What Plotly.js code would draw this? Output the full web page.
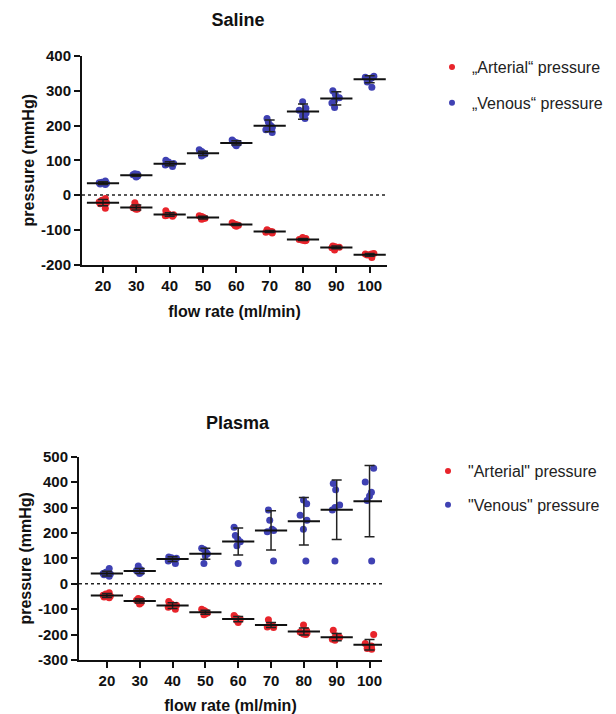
<!DOCTYPE html>
<html>
<head>
<meta charset="utf-8">
<script src="https://cdn.plot.ly/plotly-3.0.1.min.js"></script>
<style>html,body{margin:0;padding:0;background:#fff}#chart{width:616px;height:714px}</style>
</head>
<body>
<div id="chart"></div>
<script>
// ---- data ----
const flowRates = [20, 30, 40, 50, 60, 70, 80, 90, 100];
const flowRateLabels = ['20', '30', '40', '50', '60', '70', '80', '90', '100'];
const salineTicks = [-200, -100, 0, 100, 200, 300, 400];
const plasmaTicks = [-300, -200, -100, 0, 100, 200, 300, 400, 500];

const salineVenous = [
  [30, 32, 34, 35, 37, 40], [52, 55, 57, 58, 60, 61], [82, 86, 89, 91, 95, 100],
  [112, 115, 118, 121, 125, 130], [142, 146, 149, 151, 155, 158], [180, 188, 195, 200, 210, 220],
  [220, 228, 236, 244, 250, 268], [252, 265, 273, 280, 290, 300], [310, 325, 333, 337, 339, 342]
];
const salineArterial = [
  [-10, -15, -20, -22, -25, -38], [-22, -34, -37, -38, -40, -41], [-45, -55, -57, -58, -60, -61],
  [-60, -62, -65, -67, -68, -70], [-80, -82, -85, -87, -88, -90], [-100, -103, -105, -106, -107, -109],
  [-122, -125, -128, -130, -130, -132], [-147, -149, -150, -150, -152, -158], [-168, -170, -170, -172, -173, -180]
];
const salineVenousMean = [34, 57, 90, 120, 150, 199, 240, 278, 333];
const salineVenousSD = [4, 3, 6, 6, 6, 17, 22, 19, 10];
const salineArterialMean = [-22, -36, -56, -65, -85, -105, -128, -151, -172];
const salineArterialSD = [9, 7, 5, 4, 3, 3, 3, 4, 4];

const plasmaVenous = [
  [30, 35, 38, 40, 45, 60], [40, 45, 48, 52, 55, 70], [80, 90, 95, 100, 102, 105],
  [80, 110, 118, 125, 135, 140], [80, 150, 165, 175, 190, 222], [90, 205, 210, 215, 250, 290],
  [90, 215, 250, 270, 315, 330], [90, 290, 300, 310, 370, 395], [90, 328, 345, 360, 400, 455]
];
const plasmaArterial = [
  [-35, -40, -45, -48, -52, -55], [-58, -62, -65, -70, -75, -80], [-70, -80, -85, -88, -92, -100],
  [-100, -105, -110, -115, -118, -122], [-125, -132, -138, -140, -145, -152], [-142, -160, -165, -168, -170, -172],
  [-162, -185, -190, -195, -198, -200], [-183, -205, -210, -215, -218, -222], [-200, -235, -245, -250, -255, -258]
];
const plasmaVenousMean = [40, 50, 97, 118, 166, 210, 246, 291, 325];
const plasmaVenousSD = [9, 10, 9, 22, 53, 77, 93, 117, 140];
const plasmaArterialMean = [-46, -68, -86, -112, -139, -162, -188, -210, -240];
const plasmaArterialSD = [8, 8, 11, 8, 10, 10, 14, 14, 21];

// ---- styles ----
const RED = '#e8242b';
const BLUE = '#3f41b3';
const FONT = 'Arial, "Liberation Sans", sans-serif';
const W = 616, H = 714;

function flatten(groups) {
  const xs = [], ys = [];
  groups.forEach((g, i) => g.forEach(v => { xs.push(flowRates[i]); ys.push(v); }));
  return {xs, ys};
}
function pointsTrace(groups, color, xa, ya) {
  const f = flatten(groups);
  return {
    type: 'box', x: f.xs, y: f.ys, xaxis: xa, yaxis: ya,
    boxpoints: 'all', jitter: 0.55, pointpos: 0,
    fillcolor: 'rgba(0,0,0,0)', line: {width: 0, color: 'rgba(0,0,0,0)'},
    whiskerwidth: 0, marker: {color: color, size: 7, opacity: 1},
    showlegend: false, hoverinfo: 'y'
  };
}
function meanTrace(mean, sd, xa, ya) {
  return {
    type: 'scatter', mode: 'markers', x: flowRates, y: mean, xaxis: xa, yaxis: ya,
    marker: {symbol: 'line-ew', size: 23, color: '#111', line: {width: 2, color: '#111'}},
    error_y: {type: 'data', array: sd, visible: true, thickness: 1.5, width: 5, color: '#222'},
    showlegend: false
  };
}
function legendTrace(name, color, legend, group) {
  return {
    type: 'scatter', mode: 'markers', x: [null], y: [null], xaxis: legend === 'legend' ? 'x' : 'x2',
    yaxis: legend === 'legend' ? 'y' : 'y2', name: name, legend: legend, legendgroup: group,
    marker: {color: color, size: 6}
  };
}

const data = [
  pointsTrace(salineVenous, BLUE, 'x', 'y'),
  pointsTrace(salineArterial, RED, 'x', 'y'),
  meanTrace(salineVenousMean, salineVenousSD, 'x', 'y'),
  meanTrace(salineArterialMean, salineArterialSD, 'x', 'y'),
  pointsTrace(plasmaVenous, BLUE, 'x2', 'y2'),
  pointsTrace(plasmaArterial, RED, 'x2', 'y2'),
  meanTrace(plasmaVenousMean, plasmaVenousSD, 'x2', 'y2'),
  meanTrace(plasmaArterialMean, plasmaArterialSD, 'x2', 'y2'),
  legendTrace('\u201EArterial\u201C pressure', RED, 'legend', 'a'),
  legendTrace('\u201EVenous\u201C pressure', BLUE, 'legend', 'b'),
  legendTrace('"Arterial" pressure', RED, 'legend2', 'c'),
  legendTrace('"Venous" pressure', BLUE, 'legend2', 'd')
];

const tickFont = {family: FONT, size: 15, color: '#111', weight: 'bold'};
const titleFont = {family: FONT, size: 16, color: '#111', weight: 'bold'};
function xAxis(domainPx, range, anchor) {
  return {
    domain: [domainPx[0] / W, domainPx[1] / W], anchor: anchor, range: range,
    tickmode: 'array', tickvals: flowRates, ticktext: flowRateLabels,
    ticks: 'outside', ticklen: 6, tickwidth: 2, tickcolor: '#111',
    showline: true, linewidth: 2, linecolor: '#111', showgrid: false, zeroline: false,
    tickfont: tickFont, title: {text: 'flow rate (ml/min)', font: titleFont, standoff: 13}
  };
}
function yAxis(domainPx, range, ticks, anchor) {
  return {
    domain: [1 - domainPx[1] / H, 1 - domainPx[0] / H], anchor: anchor, range: range,
    tickmode: 'array', tickvals: ticks, ticktext: ticks.map(String),
    ticks: 'outside', ticklen: 6, tickwidth: 2, tickcolor: '#111',
    showline: true, linewidth: 2, linecolor: '#111', showgrid: false, zeroline: false,
    tickfont: tickFont, title: {text: 'pressure (mmHg)', font: titleFont, standoff: 2}
  };
}

const layout = {
  width: W, height: H, margin: {l: 0, r: 0, t: 0, b: 0},
  paper_bgcolor: '#fff', plot_bgcolor: 'rgba(0,0,0,0)',
  font: {family: FONT, color: '#111'},
  boxmode: 'overlay', boxgap: 0.3,
  title: {text: 'Saline', font: {family: FONT, size: 18, weight: 'bold', color: '#111'},
          x: 238 / W, xanchor: 'center', xref: 'paper', y: 1 - 20 / H, yanchor: 'middle'},
  xaxis: xAxis([82, 387], [13.7, 105.2], 'y'),
  yaxis: yAxis([56, 264.5], [-200, 400], salineTicks, 'x'),
  xaxis2: xAxis([79, 382], [11.5, 103.8], 'y2'),
  yaxis2: yAxis([456.7, 660], [-300, 500], plasmaTicks, 'x2'),
  shapes: [
    {type: 'line', xref: 'x domain', yref: 'y', x0: 0, x1: 1, y0: 0, y1: 0,
     line: {color: '#222', width: 1.5, dash: 'dot'}, layer: 'below'},
    {type: 'line', xref: 'x2 domain', yref: 'y2', x0: 0, x1: 1, y0: 0, y1: 0,
     line: {color: '#222', width: 1.5, dash: 'dot'}, layer: 'below'}
  ],
  annotations: [
    {text: 'Plasma', xref: 'paper', yref: 'paper', x: 238 / W, y: 1 - 423 / H,
     xanchor: 'center', yanchor: 'middle', showarrow: false,
     font: {family: FONT, size: 18, weight: 'bold', color: '#111'}}
  ],
  legend: {x: 432 / W, y: 1 - 50 / H, xanchor: 'left', yanchor: 'top', traceorder: 'grouped',
           tracegroupgap: 12, bgcolor: 'rgba(0,0,0,0)', font: {family: FONT, size: 16, color: '#222'}},
  legend2: {x: 428 / W, y: 1 - 454 / H, xanchor: 'left', yanchor: 'top', traceorder: 'grouped',
            tracegroupgap: 10, bgcolor: 'rgba(0,0,0,0)', font: {family: FONT, size: 16, color: '#222'}}
};

Plotly.newPlot('chart', data, layout, {displayModeBar: false, staticPlot: true});
</script>
</body>
</html>
